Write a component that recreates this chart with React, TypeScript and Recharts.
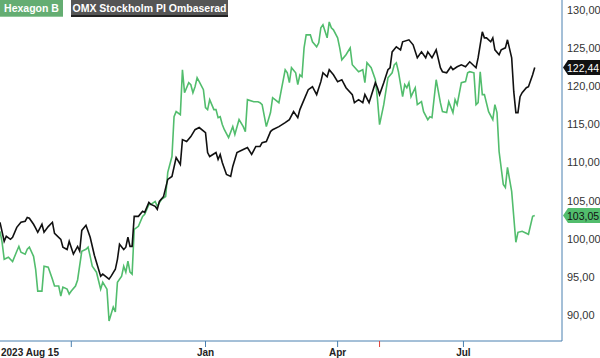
import React from "react";
import { LineChart, Line, XAxis, YAxis } from "recharts";

// [trading session since 2023-08-15, index value]
const omxPoints: [number, number][] = [
  [0, 102.16], [2, 99.67], [3, 100.33], [5, 99.93], [6, 100.2], [8, 101.5], [10, 102.16], [12, 102.3],
  [13, 102.8], [14, 102.7], [16, 101.9], [17, 101.4], [18, 100.85], [20, 101.9], [21, 100.85], [23, 101.6],
  [25, 102.16], [26, 100.7], [29, 99.93], [30, 98.9], [32, 98.6], [33, 99.67], [35, 98.0], [37, 99.0],
  [38, 98.4], [39, 101.1], [41, 101.76], [42, 101.0], [43, 100.2], [45, 97.85], [48, 95.1], [49, 95.36],
  [52, 94.7], [53, 95.1], [55, 96.0], [56, 97.3], [57, 99.28], [59, 98.6], [60, 98.9], [61, 100.2],
  [62, 99.0], [63, 99.0], [64, 102.94], [66, 102.94], [68, 103.6], [69, 103.46], [71, 104.77], [72, 104.5],
  [74, 104.25], [75, 103.86], [76, 104.9], [78, 105.55], [80, 107.78], [82, 108.17], [84, 110.65], [86, 109.74],
  [87, 113.0], [89, 112.75], [91, 113.4], [93, 114.3], [95, 114.58], [98, 113.92], [99, 111.3], [100, 110.78],
  [103, 111.3], [104, 110.4], [105, 111.05], [106, 110.0], [108, 108.43], [110, 108.17], [111, 109.48], [113, 111.3],
  [116, 111.7], [118, 111.96], [120, 111.05], [122, 112.1], [124, 112.1], [125, 112.6], [127, 112.75], [129, 114.05],
  [130, 114.3], [133, 114.7], [136, 115.23], [138, 115.62], [140, 116.67], [142, 115.88], [143, 116.93], [145, 118.24],
  [147, 119.54], [149, 119.93], [151, 118.9], [153, 120.6], [154, 121.76], [156, 121.24], [157, 122.16], [159, 121.5],
  [161, 120.6], [163, 120.85], [165, 119.8], [168, 118.9], [169, 117.84], [171, 118.24], [173, 117.84], [174, 118.9],
  [176, 117.84], [179, 120.46], [180, 119.8], [181, 118.9], [183, 120.46], [185, 122.16], [186, 122.42], [187, 124.5],
  [189, 125.16], [191, 124.77], [192, 125.82], [195, 126.08], [197, 125.42], [199, 123.73], [201, 124.5], [203, 123.73],
  [204, 124.5], [206, 123.73], [208, 124.77], [210, 122.42], [211, 121.9], [213, 121.76], [215, 122.55], [216, 122.16],
  [218, 122.55], [220, 122.8], [222, 122.55], [224, 123.2], [227, 122.42], [228, 123.73], [230, 127.12], [231, 126.34],
  [232, 126.34], [234, 125.82], [235, 126.34], [236, 124.77], [238, 124.12], [239, 124.77], [241, 125.03], [242, 126.08],
  [244, 123.73], [245, 119.28], [246, 116.54], [247, 116.54], [248, 118.63], [249, 119.15], [251, 119.8], [252, 119.93],
  [254, 121.5], [255, 122.44],
];

const hexPoints: [number, number][] = [
  [0, 100.98], [1, 99.54], [2, 97.32], [4, 97.58], [6, 97.0], [8, 98.37], [9, 99.0], [10, 98.24],
  [12, 97.97], [13, 98.63], [14, 98.9], [16, 97.7], [17, 96.0], [18, 93.14], [20, 93.14], [21, 96.4],
  [23, 96.27], [25, 94.7], [26, 93.8], [28, 93.8], [29, 92.5], [30, 93.66], [32, 93.4], [33, 92.75],
  [34, 93.14], [36, 93.8], [37, 94.6], [39, 98.37], [41, 98.63], [42, 98.9], [43, 97.7], [44, 96.4],
  [46, 95.62], [48, 93.4], [49, 94.3], [51, 93.4], [52, 89.22], [54, 91.05], [55, 90.4], [56, 94.3],
  [58, 95.1], [59, 96.4], [60, 95.62], [61, 97.06], [62, 95.62], [63, 95.36], [64, 101.24], [66, 101.63],
  [68, 102.94], [69, 103.2], [71, 104.5], [72, 104.5], [74, 104.9], [75, 104.25], [77, 105.16], [79, 105.55],
  [80, 108.7], [82, 110.78], [83, 116.0], [84, 116.67], [86, 116.27], [87, 122.16], [88, 119.15], [90, 120.46],
  [91, 120.2], [92, 119.15], [93, 119.93], [94, 121.1], [95, 120.6], [97, 119.54], [98, 117.2], [99, 116.93],
  [100, 118.24], [102, 116.93], [103, 116.93], [104, 115.88], [105, 116.0], [106, 114.97], [107, 114.3], [109, 113.27],
  [111, 114.7], [112, 113.66], [114, 115.62], [116, 114.7], [117, 114.05], [118, 118.24], [121, 117.97], [123, 117.97],
  [124, 117.84], [125, 117.58], [127, 114.7], [129, 116.54], [130, 118.5], [133, 117.84], [134, 119.28], [136, 122.16],
  [137, 121.76], [138, 120.46], [139, 122.42], [141, 121.76], [142, 120.2], [143, 121.5], [144, 121.24], [145, 125.03],
  [146, 126.73], [148, 126.73], [149, 125.82], [151, 125.16], [152, 125.69], [153, 127.65], [154, 128.04], [156, 126.34],
  [157, 128.43], [158, 127.65], [159, 127.39], [161, 126.34], [162, 125.03], [163, 123.46], [165, 124.12], [167, 125.03],
  [168, 122.81], [171, 121.9], [173, 122.16], [174, 120.46], [175, 123.07], [177, 122.42], [179, 120.85], [180, 118.3],
  [181, 114.97], [183, 117.58], [185, 121.1], [187, 121.76], [188, 122.8], [189, 123.07], [190, 121.9], [192, 118.63],
  [193, 120.2], [194, 119.8], [195, 120.46], [196, 118.63], [198, 119.8], [199, 117.58], [201, 117.97], [202, 116.67],
  [204, 115.62], [205, 116.0], [206, 115.88], [208, 120.85], [210, 117.84], [211, 116.67], [213, 116.54], [214, 117.97],
  [216, 116.54], [217, 118.24], [218, 117.58], [220, 120.46], [222, 120.6], [223, 121.76], [224, 121.9], [226, 121.76],
  [227, 117.58], [228, 117.84], [229, 121.9], [230, 118.9], [231, 118.9], [233, 116.67], [235, 115.62], [236, 117.58],
  [237, 116.54], [238, 111.44], [240, 107.12], [241, 106.73], [242, 109.35], [244, 106.21], [246, 99.54], [247, 100.85],
  [249, 100.98], [252, 100.59], [254, 102.94], [255, 103.05],
];

const seriesNames = ["Hexagon B", "OMX Stockholm PI Ombaserad"];
const yTicks = [90, 95, 100, 105, 110, 115, 120, 125, 130];
const yDomain: [number, number] = [86.6, 131.3];
const xDomain: [number, number] = [0, 268];
// session index -> label ("" = tick only)
const xTicks = [0, 34, 98, 161, 181, 221];
const xTickLabels: Record<number, string> = { 0: "2023 Aug 15", 34: "", 98: "Jan", 161: "Apr", 181: "", 221: "Jul" };
const markerTicks = [181];

const GREEN = "#52bd6d";
const AXIS = "#4a80b0";
const FONT = "'Liberation Sans', Arial, sans-serif";

// merge into one table keyed by session
const sessions = Array.from(new Set([...omxPoints.map((p) => p[0]), ...hexPoints.map((p) => p[0])])).sort((a, b) => a - b);
const omxMap = new Map(omxPoints);
const hexMap = new Map(hexPoints);
const data = sessions.map((s) => ({ s, omx: omxMap.get(s), hex: hexMap.get(s) }));
const lastIndex = data.length - 1;

const fmt = (v: number) => v.toFixed(2).replace(".", ",");

const XTick = (props: any) => {
  const { x, y, payload } = props;
  const v = payload.value as number;
  const label = xTickLabels[v] ?? "";
  const isMarker = markerTicks.includes(v);
  return (
    <g>
      {v !== 0 && <line x1={x} x2={x} y1={y} y2={y + 6} stroke={isMarker ? "#e0403a" : AXIS} strokeWidth={1} />}
      {label && (
        <text
          x={v === 0 ? x + 1 : x}
          y={y + 15}
          textAnchor={v === 0 ? "start" : "middle"}
          fontSize={10}
          fontWeight="bold"
          fontFamily={FONT}
          fill="#222"
        >
          {label}
        </text>
      )}
    </g>
  );
};

const makeBadge = (bg: string, fg: string, value: number) => (props: any) => {
  const { y, index } = props;
  if (index !== lastIndex || y == null) return null;
  const x0 = 562;
  const h = 7.5;
  return (
    <g>
      <polygon
        points={`${x0 + 1},${y} ${x0 + 6},${y - h} ${600},${y - h} ${600},${y + h} ${x0 + 6},${y + h}`}
        fill={bg}
      />
      <text x={x0 + 5} y={y + 4} fontSize={10.5} fill={fg} fontFamily={FONT}>
        {fmt(value)}
      </text>
    </g>
  );
};

export default function App() {
  return (
    <div style={{ position: "absolute", left: 0, top: 0, width: 600, height: 358, background: "#fff" }}>
      <LineChart width={600} height={358} data={data} margin={{ top: 0, right: 0, bottom: 0, left: 0 }}>
        <XAxis
          dataKey="s"
          type="number"
          domain={xDomain}
          allowDataOverflow
          ticks={xTicks}
          interval={0}
          height={17}
          tickSize={0}
          tickMargin={0}
          axisLine={{ stroke: AXIS, strokeWidth: 1 }}
          tickLine={false}
          tick={<XTick />}
        />
        <YAxis
          orientation="right"
          type="number"
          domain={yDomain}
          allowDataOverflow
          ticks={yTicks}
          interval={0}
          width={38}
          tickSize={0}
          tickMargin={5}
          tickLine={false}
          axisLine={{ stroke: AXIS, strokeWidth: 1 }}
          tickFormatter={fmt}
          tick={{ fontSize: 11, fill: "#333", fontFamily: FONT }}
        />
        <Line
          type="linear"
          dataKey="hex"
          stroke={GREEN}
          strokeWidth={1.6}
          dot={false}
          connectNulls
          isAnimationActive={false}
          label={makeBadge(GREEN, "#111", hexPoints[hexPoints.length - 1][1])}
        />
        <Line
          type="linear"
          dataKey="omx"
          stroke="#111"
          strokeWidth={1.6}
          dot={false}
          connectNulls
          isAnimationActive={false}
          label={makeBadge("#111", "#fff", omxPoints[omxPoints.length - 1][1])}
        />
      </LineChart>
      <div
        style={{
          position: "absolute",
          left: 0,
          top: 0,
          width: 63,
          height: 16,
          textAlign: "center",
          background: "#64ad72",
          borderBottom: "1px solid #8fc79a",
          color: "#fff",
          font: `bold 10.5px ${FONT}`,
          lineHeight: "16px",
          whiteSpace: "nowrap",
        }}
      >
        {seriesNames[0]}
      </div>
      <div
        style={{
          position: "absolute",
          left: 71,
          top: 0,
          width: 157,
          height: 15,
          textAlign: "center",
          background: "#555",
          borderBottom: "2px solid #222",
          color: "#fff",
          font: `bold 10.5px ${FONT}`,
          lineHeight: "16px",
          whiteSpace: "nowrap",
        }}
      >
        {seriesNames[1]}
      </div>
    </div>
  );
}
